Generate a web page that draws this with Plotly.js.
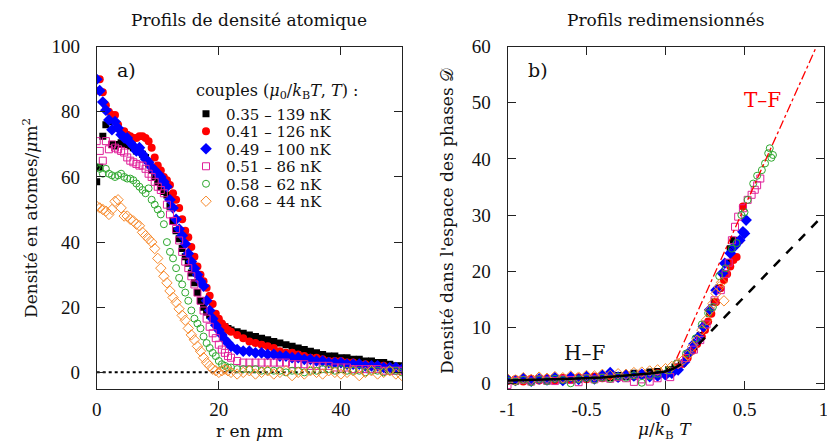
<!DOCTYPE html>
<html><head><meta charset="utf-8">
<script src="https://cdn.plot.ly/plotly-3.0.1.min.js"></script>
<style>html,body{margin:0;padding:0;background:#fff}#c{width:827px;height:441px}</style>
</head><body><div id="c"></div>
<script>
// ---------- Panel a) : density profiles ----------
const r = [0,0.5,1,1.5,2,2.5,3,3.5,4,4.5,5,5.5,6,6.5,7,7.5,8,8.5,9,9.5,10,10.5,11,11.5,12,12.5,13,13.5,14,14.5,15,15.5,16,16.5,17,17.5,18,18.5,19,19.5,20,20.5,21,21.5,22,
  23,24,25,26,27,28,29,30,31,32,33,34,35,36,37,38,39,40,41,42,43,44,45,46,47,48,49,50];
const nBlack = [58.5,63,72.5,76,77,70,69.5,70,70.5,70, 70,69.5,69,68,68,67,66,64,62,60, 58.5,57,55.5,54.5,51,46.5,43.5,41,38,35.5, 33.5,30.5,27.5,24.5,22,20,18.5,17.5,16.5,16, 15.5,14.5,14,13.5,13,
  12.5,12,11.5,11,10.5,10,9.5,9,8.5,8,7.5,7,6.5,6,5.5,5,5,4.5,4.5,4,4,3.5,3.5,3,3,2.5,2,2];
const nRed = [86.5,90,86,82,80,79,79,76,74,74, 73,72.5,72,72,72.5,72.5,72,71,69,66, 63.5,62,60,59,57.5,55,53,50.5,47,43.5, 41.5,38.5,35.5,32.5,30,28,26,23.5,21,18, 16.5,15,14,13,12.5,
  11.5,10.5,9.5,9,8.5,8,7.5,6.5,6,6,5.5,5,4.5,4.5,4,3.5,3.5,3.5,3,3,2.5,2.5,2,2,2,1.5,1.5,1];
const nBlue = [90,86.5,83,80.5,77.5,74.5,77,75,73,72, 72,70.5,69.5,68,69,67,65.5,64.5,63,62, 61,60,58.5,57,53,50.5,47,44,42,39.5, 36.5,34,32,30,28,26.5,22,19,16.5,14.5, 13,11.5,10,9,8,
  7,6.5,6.5,6,6,5.5,5.5,5,5,4.5,4.5,4,4,3.5,3.5,3,3,3,2.5,2.5,2.5,2,2,2,1.5,1.5,1.5,1];
const nPink = [71,68,65,71,68.5,70,69,68.5,68,67.5, 66,65,64.5,64,63.5,63.5,62.5,61,60,58.5, 57,56,55,51.5,48.5,46.5,44,40.5,37,34, 32,29.5,27,24.5,22,19,16.5,14,12,10.5, 8.5,7,6,5,4.5,
  3.5,3,3,3,3,3,3,3,3,2.5,2.5,2.5,2,2,2,2,1.5,1.5,1.5,1,1,1,1,1,0.5,0.5,0.5,0.5];
const nGreen = [63,62.5,61,62.5,61,60.5,60,60.5,61,60, 59.5,59.5,59,58,57,56,55,56.5,53,51.5, 50,48.5,45.5,40,37,35,32,29,27,24.5, 22,19,16.5,15,13.5,11,9,7.5,6,5, 3.5,2.5,2,1.5,1.5,
  1,1,1,1,0.5,0.5,0.5,0.5,0,0.5,0.5,0,0.5,0.5,1,1,0.5,1,0.5,0.5,0.5,0,0.5,0.5,0,0.5,0.5,0];
const nOrange = [51,50.5,50,49.5,48.5,50,52.5,53,50.5,48, 48,47,46.5,45.5,45,43,42,41,40,38, 35,32,29.5,27.5,25,23,21.5,19.5,17.5,16, 13.5,11.5,10,8,6.5,4.5,3,2,1,0.5, 0,0.5,1,0.5,0,
  -0.5,0,0.5,-0.5,0,0.5,-0.5,0,0.5,-1,0,-0.5,0.5,0,-0.5,0.5,0,-0.5,0,0.5,-1,0,0.5,-0.5,0,0.5,-0.5,-1];
const zeroR = [0,50], zeroN = [0,0];
const labels = ["0.35 – 139 nK","0.41 – 126 nK","0.49 – 100 nK","0.51 – 86 nK","0.58 – 62 nK","0.68 – 44 nK"];

// ---------- Panel b) : rescaled profiles ----------
const muLow = [-1,-0.95,-0.9,-0.85,-0.8,-0.75,-0.7,-0.65,-0.6,-0.55,-0.5,-0.45,-0.4,-0.35,-0.3,-0.25,-0.2,-0.15,-0.1,-0.05];
const dBlackLow = [0.6,0.3,0.7,0.5,0.8,0.4,0.9,0.6,1.0,0.7,1.1,0.9,1.3,1.0,1.4,1.2,1.8,1.5,2.0,2.1];
const muBlackHigh = [0.02,0.06,0.1,0.14,0.18,0.22,0.25,0.28,0.31,0.34,0.37,0.39,0.41,0.43];
const dBlackHigh = [2.4,2.9,3.5,5,6.5,8.5,10.5,12.5,14.5,17,19,21.5,24,25.5];
const dRedLow = [0.4,0.7,0.3,0.8,0.5,0.9,0.5,1.0,0.6,1.1,0.7,1.2,0.9,1.3,1.0,1.5,1.2,1.7,1.4,1.8];
const muRedHigh = [0.02,0.05,0.08,0.11,0.14,0.17,0.2,0.23,0.25,0.27,0.29,0.32,0.35,0.37,0.39,0.41,0.43,0.45,0.47,0.49];
const dRedHigh = [1.8,2.2,2.8,3.5,4.5,5.8,7,8.3,9.5,11,12.4,14.5,17,18.4,19.5,20.8,22,22.5,25.5,31.5];
const dBlueLow = [0.7,0.5,0.9,0.4,0.8,0.6,1.0,0.5,1.1,0.7,1.2,0.8,1.4,1.9,1.1,1.5,1.3,1.6,1.2,1.3];
const muBlueHigh = [0.0,0.04,0.08,0.12,0.15,0.18,0.21,0.24,0.28,0.32,0.36,0.375,0.41,0.44,0.47,0.49,0.5,0.51];
const dBlueHigh = [1.5,1.8,2.4,3.8,5.5,7,8.3,10.1,13.1,16.6,19.6,21.4,23.2,24.5,25.5,27,26.7,29.1];
const dPinkLow = [-0.3,0.4,0.6,0.3,0.7,0.5,0.4,0.8,0.6,0.2,0.9,0.7,1.0,0.8,1.1,0.9,0.25,0.7,0.3,0.9];
const muPinkHigh = [0.03,0.08,0.13,0.18,0.22,0.26,0.31,0.35,0.38,0.4,0.42,0.44,0.46,0.49,0.52,0.545,0.565,0.58,0.6];
const dPinkHigh = [1.1,3.5,4.5,6,7.7,10.5,14.8,16.6,19.5,21.5,25.5,27.9,29.7,31.2,32.7,33.6,34.5,35.3,36.5];
const dGreenLow = [0.5,0.3,0.6,0.2,0.7,0.4,0.8,0.6,0.0,0.7,0.9,0.6,1.0,0.8,1.2,1.0,1.4,0.1,1.3,1.7];
const muGreenHigh = [0.02,0.07,0.13,0.19,0.23,0.27,0.3,0.34,0.38,0.42,0.45,0.48,0.5,0.52,0.555,0.58,0.61,0.63,0.65,0.66,0.67,0.68];
const dGreenHigh = [2.3,3.5,5.3,8,10.5,12.5,13.6,19.1,20.5,24,25,30,30.5,32.7,35.6,37,38,39.2,41,41.9,40.2,40.7];
const dOrangeLow = [0.8,0.6,1.0,0.7,1.1,0.9,1.2,1.0,1.3,1.1,1.4,1.3,1.6,1.4,1.7,1.6,1.9,2.0,2.2,2.4];
const muOrangeHigh = [0.0,0.04,0.08,0.11,0.14,0.17,0.2,0.23,0.26,0.28,0.3,0.32,0.34,0.355,0.37];
const dOrangeHigh = [2.6,3,3.5,4.1,5,6.5,7.7,9.5,11.3,13,14.2,16,17.2,18,14.7];
const hfMu = [-1,-0.8,-0.6,-0.4,-0.2,-0.1,0,0.05,0.1];
const hfD = [0.5,0.6,0.8,1.05,1.45,1.75,2.1,2.6,3.4];
const tfMu = [0.07,0.955];
const tfD = [4.4,60];
const mfMu = [0.21,1];
const mfD = [7.0,30];

const TFONT = "Liberation Serif, serif";   // tick labels
const FONT = "DejaVu Serif, serif";        // other texts
const styles = [
  {symbol:"square", color:"#000000", size:7},
  {symbol:"circle", color:"#ff0000", size:8},
  {symbol:"diamond", color:"#0000ff", size:9},
  {symbol:"square-open", color:"#e0209a", size:7},
  {symbol:"circle-open", color:"#2ea82e", size:7},
  {symbol:"diamond-open", color:"#f7892b", size:8}
];
const leftN = [nBlack,nRed,nBlue,nPink,nGreen,nOrange];
const rightSets = [
  [muBlackHigh,dBlackLow,dBlackHigh],[muRedHigh,dRedLow,dRedHigh],[muBlueHigh,dBlueLow,dBlueHigh],
  [muPinkHigh,dPinkLow,dPinkHigh],[muGreenHigh,dGreenLow,dGreenHigh],[muOrangeHigh,dOrangeLow,dOrangeHigh]
];
function mk(s){ return {symbol:s.symbol,color:s.color,size:s.size,line:{color:s.color,width:s.symbol.endsWith("open")?1:0}}; }
const legNames = ["legend","legend2","legend3","legend4","legend5","legend6"];

const traces = [];
traces.push({x:zeroR,y:zeroN,mode:"lines",line:{color:"#000",width:2,dash:"dot"},xaxis:"x",yaxis:"y",showlegend:false,hoverinfo:"skip"});
leftN.forEach((n,i)=>traces.push({x:r,y:n,mode:"markers",name:labels[i],legend:legNames[i],marker:mk(styles[i]),xaxis:"x",yaxis:"y"}));
rightSets.forEach((s,i)=>traces.push({x:muLow.concat(s[0]),y:s[1].concat(s[2]),mode:"markers",marker:mk(styles[i]),xaxis:"x2",yaxis:"y2",showlegend:false}));
traces.push({x:hfMu,y:hfD,mode:"lines",line:{color:"#000",width:2.5},xaxis:"x2",yaxis:"y2",showlegend:false});
traces.push({x:tfMu,y:tfD,mode:"lines",line:{color:"#ff0000",width:1.3,dash:"dashdot"},xaxis:"x2",yaxis:"y2",showlegend:false});
traces.push({x:mfMu,y:mfD,mode:"lines",line:{color:"#000",width:2.5,dash:"dash"},xaxis:"x2",yaxis:"y2",showlegend:false});

const W=827,H=441;
const px = v=>v/W, py = v=>(H-v)/H;
const axBase = {showgrid:false,zeroline:false,showline:true,mirror:"ticks",linecolor:"#222",linewidth:1,
  ticks:"inside",ticklen:8,tickcolor:"#222",ticklabeloverflow:"allow",tickfont:{family:TFONT,size:19,color:"#111"}};
const ann = (text,x,y,o)=>Object.assign({text:text,x:x,y:y,xref:"paper",yref:"paper",showarrow:false,
  font:{family:FONT,size:17,color:"#111"},xanchor:"center",yanchor:"middle"},o||{});

const legendY = [114,131.5,149,166.5,184,201.5];
const layout = {
  width:W,height:H,margin:{l:0,r:0,t:0,b:0},paper_bgcolor:"#fff",plot_bgcolor:"#fff",
  font:{family:FONT,color:"#111"},
  xaxis:Object.assign({},axBase,{domain:[px(96.7),px(402)],range:[0,50],tickvals:[0,20,40],anchor:"y",ticklabelstandoff:3}),
  yaxis:Object.assign({},axBase,{domain:[py(389.3),py(46.7)],range:[-5.2,100],tickvals:[0,20,40,60,80,100],anchor:"x",ticklabelstandoff:12}),
  xaxis2:Object.assign({},axBase,{domain:[px(507.5),px(823.5)],range:[-1,1],tickvals:[-1,-0.5,0,0.5,1],ticktext:["-1","-0.5","0","0.5","1"],anchor:"y2",ticklabelstandoff:3}),
  yaxis2:Object.assign({},axBase,{domain:[py(389.3),py(46.7)],range:[-1.07,60],tickvals:[0,10,20,30,40,50,60],anchor:"x2",ticklabelstandoff:12}),
  annotations:[
    ann("Profils de densité atomique",px(249),py(20)),
    ann("Profils redimensionnés",px(665),py(20)),
    ann("Densité en atomes/<i>μ</i>m<sup>2</sup>",px(30),py(218),{textangle:-90}),
    ann("r en <i>μ</i>m",px(249),py(431)),
    ann("Densité dans l'espace des phases 𝒟",px(447),py(221),{textangle:-90}),
    ann("<i>μ</i>/<i>k</i><sub>B</sub> <i>T</i>",px(665),py(430)),
    ann("a)",px(127),py(70),{font:{family:FONT,size:19,color:"#111"}}),
    ann("b)",px(538),py(70),{font:{family:FONT,size:19,color:"#111"}}),
    ann("T–F",px(762),py(100),{font:{family:FONT,size:20,color:"#ff0000"}}),
    ann("H–F",px(584),py(353),{font:{family:FONT,size:20,color:"#111"}}),
    ann("couples (<i>μ</i><sub>0</sub>/<i>k</i><sub>B</sub><i>T</i>, <i>T</i>) :",px(194),py(91),{xanchor:"left",font:{family:FONT,size:16,color:"#111"}})
  ]
};
legNames.forEach((ln,i)=>{
  layout[ln] = {x:px(186),y:py(legendY[i]),xanchor:"left",yanchor:"middle",bgcolor:"rgba(0,0,0,0)",borderwidth:0,
    font:{family:FONT,size:15,color:"#111"}};
});
Plotly.newPlot("c",traces,layout,{displayModeBar:false,staticPlot:true});
</script></body></html>
